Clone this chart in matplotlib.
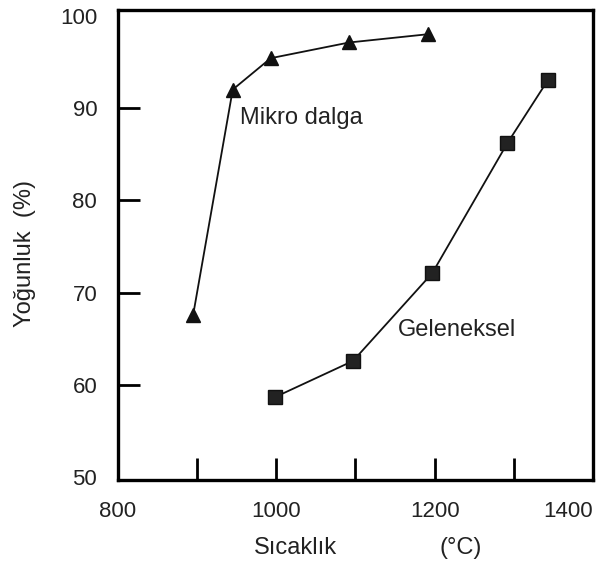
import matplotlib
matplotlib.use('Agg')
import matplotlib.pyplot as plt

plt.rcParams['font.family'] = ['Liberation Sans', 'DejaVu Sans']

# Mikro dalga (triangles)
mikro_x = [895, 945, 993, 1092, 1192]
mikro_y = [67.6, 92.0, 95.4, 97.1, 98.0]

# Geleneksel (squares)
gelen_x = [999, 1097, 1197, 1292, 1343]
gelen_y = [58.7, 62.6, 72.1, 86.2, 93.0]

x_ticks = [800, 900, 1000, 1100, 1200, 1300, 1400]
x_labels = ['800', '', '1000', '', '1200', '', '1400']
y_ticks = [50, 60, 70, 80, 90, 100]
y_labels = ['50', '60', '70', '80', '90', '100']

txt = '#222222'

fig = plt.figure(figsize=(6.05, 5.66), dpi=100)
ax = fig.add_axes([0.195, 0.152, 0.785, 0.830])

ax.plot(mikro_x, mikro_y, color='#111111', lw=1.3, marker='^', ms=10,
        markerfacecolor='#111111', markeredgecolor='#111111')
ax.plot(gelen_x, gelen_y, color='#111111', lw=1.3, marker='s', ms=10.5,
        markerfacecolor='#222222', markeredgecolor='#111111')

ax.set_xlim(800, 1400)
ax.set_ylim(49.7, 100.6)

ax.set_xticks(x_ticks)
ax.set_xticklabels(x_labels)
ax.set_yticks(y_ticks)
ax.set_yticklabels(y_labels)
ax.tick_params(direction='in', length=16, width=2, colors='black',
               labelcolor=txt, labelsize=16)
ax.tick_params(axis='x', pad=15)
ax.tick_params(axis='y', pad=15)
ax.get_xticklabels()[-1].set_ha('right')

# no tick marks on the frame edges
for t in [ax.xaxis.get_major_ticks()[0], ax.xaxis.get_major_ticks()[-1],
          ax.yaxis.get_major_ticks()[0], ax.yaxis.get_major_ticks()[-1]]:
    t.tick1line.set_visible(False)

for s in ax.spines.values():
    s.set_linewidth(2.4)
    s.set_color('black')

ax.text(954, 88.9, 'Mikro dalga', fontsize=17, color=txt, va='center', ha='left')
ax.text(1154, 65.9, 'Geleneksel', fontsize=17, color=txt, va='center', ha='left')

fig.text(25 / 605, 1 - 253 / 566, 'Yoğunluk  (%)', rotation=90, fontsize=17,
         color=txt, ha='center', va='center')
fig.text(295 / 605, 1 - 548 / 566, 'Sıcaklık', fontsize=17, color=txt,
         ha='center', va='center')
fig.text(461 / 605, 1 - 548 / 566, '(°C)', fontsize=17, color=txt,
         ha='center', va='center')

fig.savefig('out.png', dpi=100)
